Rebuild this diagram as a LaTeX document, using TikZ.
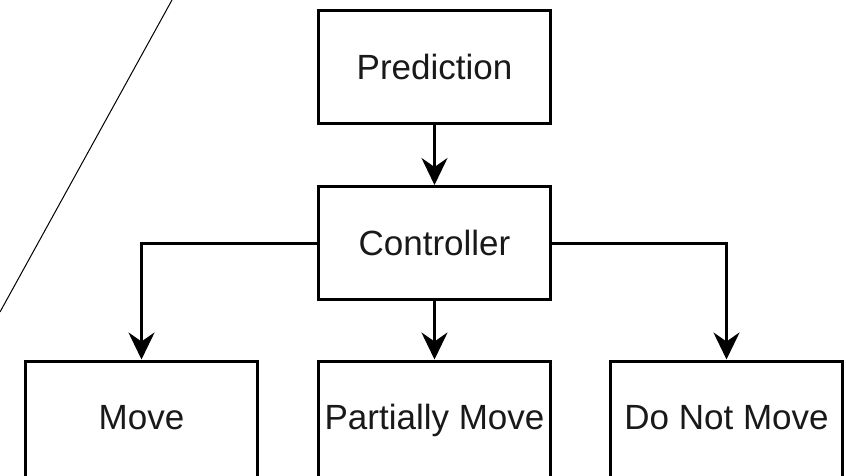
\documentclass[tikz,border=0pt]{standalone}
\usepackage{fontspec}
\setmainfont{Liberation Sans}
\usetikzlibrary{arrows.meta}
\begin{document}
\begin{tikzpicture}[x=1pt,y=-1pt,
  lbl/.style={font=\fontsize{35}{41}\selectfont, text=black!90,
    text height=25pt, text depth=0pt, inner sep=0pt},
  box/.style={lbl, draw=black, line width=3pt, fill=white, minimum width=232pt,
    minimum height=113pt},
  link/.style={draw=black, line width=3pt,
    -{Stealth[length=27pt,width=26pt,inset=9pt]}}]
  \useasboundingbox (0,0) rectangle (846,476);
  \clip (0,0) rectangle (846,476);
  % thin diagonal stroke at the upper left
  \coordinate (d1) at (0,312);
  \coordinate (d2) at (172,0);
  \draw[line width=1pt] (d1) -- (d2);
  % boxes
  \node[box] (pred) at (434.5,67) {Prediction};
  \node[box] (ctrl) at (434.5,243) {Controller};
  \node[box, minimum height=140pt] (move) at (141.5,431) {};
  \node[box, minimum height=140pt] (part) at (434.5,431) {};
  \node[box, minimum height=140pt] (dont) at (726.5,431) {};
  \node[lbl] (moveT) at (141.5,417) {Move};
  \node[lbl] (partT) at (434.5,417) {Partially Move};
  \node[lbl] (dontT) at (726.5,417) {Do Not Move};
  % connectors
  \draw[link] (pred.south) -- (ctrl.north);
  \draw[link] (ctrl.south) -- (part.north);
  \draw[link] (ctrl.west) -| (move.north);
  \draw[link] (ctrl.east) -| (dont.north);
\end{tikzpicture}
\end{document}
